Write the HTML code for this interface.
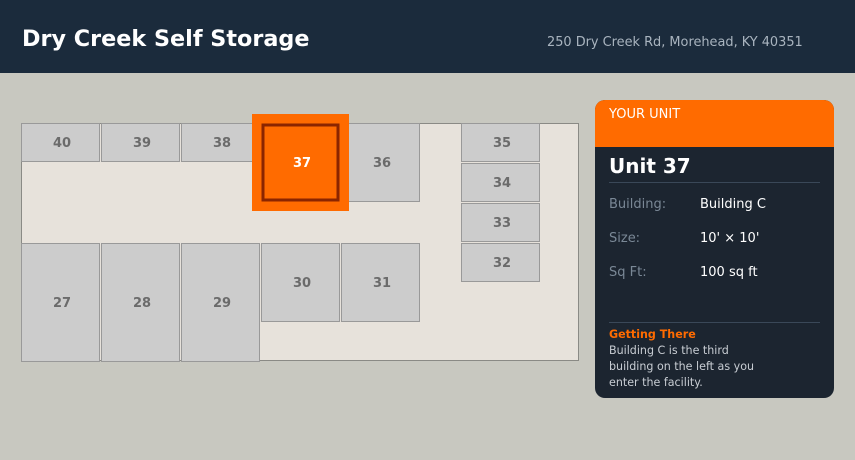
<!DOCTYPE html>
<html><head><meta charset="utf-8"><style>
html,body{margin:0;padding:0;width:855px;height:460px;overflow:hidden;background:#c8c8c0;font-family:"DejaVu Sans","Liberation Sans",sans-serif}
</style></head><body>
<svg width="855" height="460" xmlns="http://www.w3.org/2000/svg" font-family="DejaVu Sans, Liberation Sans, sans-serif">
<rect width="855" height="460" fill="#c8c8c0"/>
<rect width="855" height="73" fill="#1b2b3c"/>
<text x="22" y="46" fill="#fff" font-size="22.3" font-weight="bold">Dry Creek Self Storage</text>
<text x="547" y="46" fill="#a9b4bf" font-size="12.9">250 Dry Creek Rd, Morehead, KY 40351</text>
<rect x="21.5" y="123.5" width="557" height="237" fill="#e7e2db" stroke="#8a8a85"/>
<g fill="#cccccc" stroke="#999" stroke-width="1">
<rect x="21.5" y="123.5" width="78" height="38"/>
<rect x="101.5" y="123.5" width="78" height="38"/>
<rect x="181.5" y="123.5" width="78" height="38"/>
<rect x="341.5" y="123.5" width="78" height="78"/>
<rect x="461.5" y="123.5" width="78" height="38"/>
<rect x="461.5" y="163.5" width="78" height="38"/>
<rect x="461.5" y="203.5" width="78" height="38"/>
<rect x="461.5" y="243.5" width="78" height="38"/>
<rect x="21.5" y="243.5" width="78" height="118"/>
<rect x="101.5" y="243.5" width="78" height="118"/>
<rect x="181.5" y="243.5" width="78" height="118"/>
<rect x="261.5" y="243.5" width="78" height="78"/>
<rect x="341.5" y="243.5" width="78" height="78"/>
</g>
<rect x="252" y="114" width="97" height="97" fill="#ff6b00"/>
<rect x="263" y="125" width="75" height="75" fill="#ff6b00" stroke="#8b2500" stroke-width="3"/>
<g fill="#6b6b6b" font-size="13" font-weight="bold" text-anchor="middle">
<text x="62" y="147">40</text><text x="142" y="147">39</text><text x="222" y="147">38</text>
<text x="382" y="167">36</text>
<text x="502" y="147">35</text><text x="502" y="187">34</text><text x="502" y="227">33</text><text x="502" y="267">32</text>
<text x="62" y="307">27</text><text x="142" y="307">28</text><text x="222" y="307">29</text>
<text x="302" y="287">30</text><text x="382" y="287">31</text>
</g>
<text x="302" y="167" fill="#fff" font-size="13" font-weight="bold" text-anchor="middle">37</text>
<rect x="595" y="100" width="239" height="298" rx="10" fill="#1c2530"/>
<path d="M595 147 V110 a10 10 0 0 1 10 -10 H824 a10 10 0 0 1 10 10 V147 Z" fill="#ff6b00"/>
<text x="609" y="118" fill="#fff" font-size="13">YOUR UNIT</text>
<text x="609" y="173" fill="#fff" font-size="20" font-weight="bold">Unit 37</text>
<line x1="609" y1="182.5" x2="820" y2="182.5" stroke="#3a4858"/>
<g font-size="13">
<text x="609" y="208" fill="#7a8896">Building:</text><text x="700" y="208" fill="#fff">Building C</text>
<text x="609" y="242" fill="#7a8896">Size:</text><text x="700" y="242" fill="#fff">10' × 10'</text>
<text x="609" y="276" fill="#7a8896">Sq Ft:</text><text x="700" y="276" fill="#fff">100 sq ft</text>
</g>
<line x1="609" y1="322.5" x2="820" y2="322.5" stroke="#3a4858"/>
<text x="609" y="338" fill="#ff6b00" font-size="11.1" font-weight="bold">Getting There</text>
<g fill="#c8cdd3" font-size="11.1">
<text x="609" y="354">Building C is the third</text>
<text x="609" y="370">building on the left as you</text>
<text x="609" y="386">enter the facility.</text>
</g>
</svg>
</body></html>
